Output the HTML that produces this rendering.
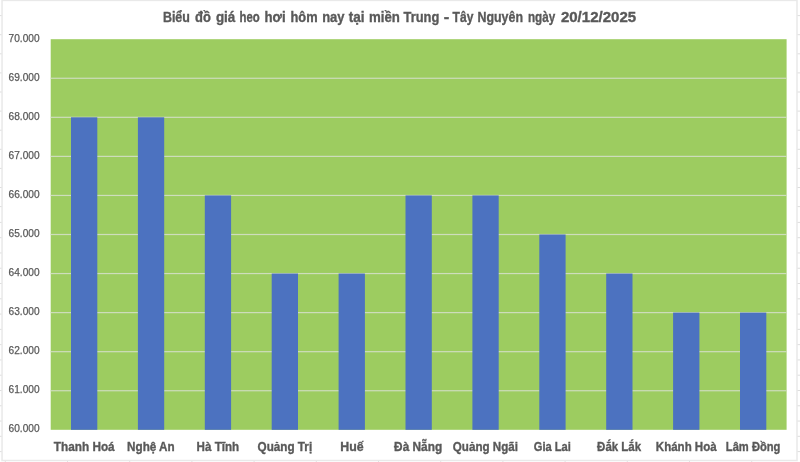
<!DOCTYPE html>
<html lang="vi"><head><meta charset="utf-8"><title>Biểu đồ giá heo hơi</title>
<style>html,body{margin:0;padding:0;background:#fff;overflow:hidden}svg{display:block}text{font-family:"Liberation Sans",sans-serif}</style></head><body>
<svg width="800" height="462" viewBox="0 0 800 462">
<rect width="800" height="462" fill="#fff"/>
<rect x="0" y="15.10" width="800" height="1" fill="#DEDEDE"/>
<rect x="0" y="34.20" width="800" height="1" fill="#DEDEDE"/>
<rect x="0" y="53.30" width="800" height="1" fill="#DEDEDE"/>
<rect x="0" y="72.40" width="800" height="1" fill="#DEDEDE"/>
<rect x="0" y="91.50" width="800" height="1" fill="#DEDEDE"/>
<rect x="0" y="110.60" width="800" height="1" fill="#DEDEDE"/>
<rect x="0" y="129.70" width="800" height="1" fill="#DEDEDE"/>
<rect x="0" y="148.80" width="800" height="1" fill="#DEDEDE"/>
<rect x="0" y="167.90" width="800" height="1" fill="#DEDEDE"/>
<rect x="0" y="187.00" width="800" height="1" fill="#DEDEDE"/>
<rect x="0" y="206.10" width="800" height="1" fill="#DEDEDE"/>
<rect x="0" y="221.90" width="800" height="1" fill="#DEDEDE"/>
<rect x="0" y="237.18" width="800" height="1" fill="#DEDEDE"/>
<rect x="0" y="252.46" width="800" height="1" fill="#DEDEDE"/>
<rect x="0" y="267.74" width="800" height="1" fill="#DEDEDE"/>
<rect x="0" y="283.02" width="800" height="1" fill="#DEDEDE"/>
<rect x="0" y="298.30" width="800" height="1" fill="#DEDEDE"/>
<rect x="0" y="313.58" width="800" height="1" fill="#DEDEDE"/>
<rect x="0" y="328.86" width="800" height="1" fill="#DEDEDE"/>
<rect x="0" y="344.14" width="800" height="1" fill="#DEDEDE"/>
<rect x="0" y="359.42" width="800" height="1" fill="#DEDEDE"/>
<rect x="0" y="374.70" width="800" height="1" fill="#DEDEDE"/>
<rect x="0" y="389.98" width="800" height="1" fill="#DEDEDE"/>
<rect x="0" y="405.26" width="800" height="1" fill="#DEDEDE"/>
<rect x="0" y="420.54" width="800" height="1" fill="#DEDEDE"/>
<rect x="0" y="435.82" width="800" height="1" fill="#DEDEDE"/>
<rect x="0" y="451.10" width="800" height="1" fill="#DEDEDE"/>
<rect x="0" y="466.38" width="800" height="1" fill="#DEDEDE"/>
<rect x="4.80" y="0" width="1" height="462" fill="#DEDEDE"/>
<rect x="67.00" y="0" width="1" height="462" fill="#DEDEDE"/>
<rect x="129.20" y="0" width="1" height="462" fill="#DEDEDE"/>
<rect x="191.40" y="0" width="1" height="462" fill="#DEDEDE"/>
<rect x="253.60" y="0" width="1" height="462" fill="#DEDEDE"/>
<rect x="315.80" y="0" width="1" height="462" fill="#DEDEDE"/>
<rect x="378.00" y="0" width="1" height="462" fill="#DEDEDE"/>
<rect x="440.20" y="0" width="1" height="462" fill="#DEDEDE"/>
<rect x="502.40" y="0" width="1" height="462" fill="#DEDEDE"/>
<rect x="564.60" y="0" width="1" height="462" fill="#DEDEDE"/>
<rect x="626.80" y="0" width="1" height="462" fill="#DEDEDE"/>
<rect x="689.00" y="0" width="1" height="462" fill="#DEDEDE"/>
<rect x="751.20" y="0" width="1" height="462" fill="#DEDEDE"/>
<rect x="813.40" y="0" width="1" height="462" fill="#DEDEDE"/>
<rect x="2.05" y="0.4" width="794.95" height="460.1" fill="#fff" stroke="#E9E9E9" stroke-width="1.5"/>
<rect x="50.7" y="39.2" width="735.90" height="390.60" fill="#9DCC60"/>
<rect x="50.7" y="77.66" width="735.90" height="1.2" fill="#CEDDBC"/>
<rect x="50.7" y="116.72" width="735.90" height="1.2" fill="#CEDDBC"/>
<rect x="50.7" y="155.78" width="735.90" height="1.2" fill="#CEDDBC"/>
<rect x="50.7" y="194.84" width="735.90" height="1.2" fill="#CEDDBC"/>
<rect x="50.7" y="233.90" width="735.90" height="1.2" fill="#CEDDBC"/>
<rect x="50.7" y="272.96" width="735.90" height="1.2" fill="#CEDDBC"/>
<rect x="50.7" y="312.02" width="735.90" height="1.2" fill="#CEDDBC"/>
<rect x="50.7" y="351.08" width="735.90" height="1.2" fill="#CEDDBC"/>
<rect x="50.7" y="390.14" width="735.90" height="1.2" fill="#CEDDBC"/>
<rect x="71.00" y="117.32" width="26.3" height="312.48" fill="#4C72C0"/>
<rect x="137.90" y="117.32" width="26.3" height="312.48" fill="#4C72C0"/>
<rect x="204.80" y="195.44" width="26.3" height="234.36" fill="#4C72C0"/>
<rect x="271.70" y="273.56" width="26.3" height="156.24" fill="#4C72C0"/>
<rect x="338.60" y="273.56" width="26.3" height="156.24" fill="#4C72C0"/>
<rect x="405.50" y="195.44" width="26.3" height="234.36" fill="#4C72C0"/>
<rect x="472.40" y="195.44" width="26.3" height="234.36" fill="#4C72C0"/>
<rect x="539.30" y="234.50" width="26.3" height="195.30" fill="#4C72C0"/>
<rect x="606.20" y="273.56" width="26.3" height="156.24" fill="#4C72C0"/>
<rect x="673.10" y="312.62" width="26.3" height="117.18" fill="#4C72C0"/>
<rect x="740.00" y="312.62" width="26.3" height="117.18" fill="#4C72C0"/>
<text x="39.6" y="41.80" text-anchor="end" stroke="#595959" stroke-width="0.25" font-size="10.5" fill="#595959" textLength="31" lengthAdjust="spacingAndGlyphs">70.000</text>
<text x="39.6" y="80.86" text-anchor="end" stroke="#595959" stroke-width="0.25" font-size="10.5" fill="#595959" textLength="31" lengthAdjust="spacingAndGlyphs">69.000</text>
<text x="39.6" y="119.92" text-anchor="end" stroke="#595959" stroke-width="0.25" font-size="10.5" fill="#595959" textLength="31" lengthAdjust="spacingAndGlyphs">68.000</text>
<text x="39.6" y="158.98" text-anchor="end" stroke="#595959" stroke-width="0.25" font-size="10.5" fill="#595959" textLength="31" lengthAdjust="spacingAndGlyphs">67.000</text>
<text x="39.6" y="198.04" text-anchor="end" stroke="#595959" stroke-width="0.25" font-size="10.5" fill="#595959" textLength="31" lengthAdjust="spacingAndGlyphs">66.000</text>
<text x="39.6" y="237.10" text-anchor="end" stroke="#595959" stroke-width="0.25" font-size="10.5" fill="#595959" textLength="31" lengthAdjust="spacingAndGlyphs">65.000</text>
<text x="39.6" y="276.16" text-anchor="end" stroke="#595959" stroke-width="0.25" font-size="10.5" fill="#595959" textLength="31" lengthAdjust="spacingAndGlyphs">64.000</text>
<text x="39.6" y="315.22" text-anchor="end" stroke="#595959" stroke-width="0.25" font-size="10.5" fill="#595959" textLength="31" lengthAdjust="spacingAndGlyphs">63.000</text>
<text x="39.6" y="354.28" text-anchor="end" stroke="#595959" stroke-width="0.25" font-size="10.5" fill="#595959" textLength="31" lengthAdjust="spacingAndGlyphs">62.000</text>
<text x="39.6" y="393.34" text-anchor="end" stroke="#595959" stroke-width="0.25" font-size="10.5" fill="#595959" textLength="31" lengthAdjust="spacingAndGlyphs">61.000</text>
<text x="39.6" y="432.40" text-anchor="end" stroke="#595959" stroke-width="0.25" font-size="10.5" fill="#595959" textLength="31" lengthAdjust="spacingAndGlyphs">60.000</text>
<text y="451.3" font-size="12.5" font-weight="bold" fill="#595959" stroke="#595959" stroke-width="0.35"><tspan x="53.85" textLength="60.80" lengthAdjust="spacingAndGlyphs">Thanh Hoá</tspan></text>
<text y="451.3" font-size="12.5" font-weight="bold" fill="#595959" stroke="#595959" stroke-width="0.35"><tspan x="127.10" textLength="47.55" lengthAdjust="spacingAndGlyphs">Nghệ An</tspan></text>
<text y="451.3" font-size="12.5" font-weight="bold" fill="#595959" stroke="#595959" stroke-width="0.35"><tspan x="196.60" textLength="42.55" lengthAdjust="spacingAndGlyphs">Hà Tĩnh</tspan></text>
<text y="451.3" font-size="12.5" font-weight="bold" fill="#595959" stroke="#595959" stroke-width="0.35"><tspan x="257.60" textLength="54.55" lengthAdjust="spacingAndGlyphs">Quảng Trị</tspan></text>
<text y="451.3" font-size="12.5" font-weight="bold" fill="#595959" stroke="#595959" stroke-width="0.35"><tspan x="340.35" textLength="23.30" lengthAdjust="spacingAndGlyphs">Huế</tspan></text>
<text y="451.3" font-size="12.5" font-weight="bold" fill="#595959" stroke="#595959" stroke-width="0.35"><tspan x="394.10" textLength="48.05" lengthAdjust="spacingAndGlyphs">Đà Nẵng</tspan></text>
<text y="451.3" font-size="12.5" font-weight="bold" fill="#595959" stroke="#595959" stroke-width="0.35"><tspan x="452.85" textLength="65.05" lengthAdjust="spacingAndGlyphs">Quảng Ngãi</tspan></text>
<text y="451.3" font-size="12.5" font-weight="bold" fill="#595959" stroke="#595959" stroke-width="0.35"><tspan x="533.85" textLength="37.05" lengthAdjust="spacingAndGlyphs">Gia Lai</tspan></text>
<text y="451.3" font-size="12.5" font-weight="bold" fill="#595959" stroke="#595959" stroke-width="0.35"><tspan x="597.10" textLength="44.05" lengthAdjust="spacingAndGlyphs">Đắk Lắk</tspan></text>
<text y="451.3" font-size="12.5" font-weight="bold" fill="#595959" stroke="#595959" stroke-width="0.35"><tspan x="655.85" textLength="60.80" lengthAdjust="spacingAndGlyphs">Khánh Hoà</tspan></text>
<text y="451.3" font-size="12.5" font-weight="bold" fill="#595959" stroke="#595959" stroke-width="0.35"><tspan x="725.85" textLength="54.55" lengthAdjust="spacingAndGlyphs">Lâm Đồng</tspan></text>
<text y="21.5" font-size="14.4" font-weight="bold" fill="#595959" stroke="#595959" stroke-width="0.35"><tspan x="162.90" textLength="27.00" lengthAdjust="spacingAndGlyphs">Biểu</tspan> <tspan x="195.10" textLength="15.80" lengthAdjust="spacingAndGlyphs">đồ</tspan> <tspan x="215.90" textLength="19.40" lengthAdjust="spacingAndGlyphs">giá</tspan> <tspan x="239.50" textLength="20.20" lengthAdjust="spacingAndGlyphs">heo</tspan> <tspan x="264.50" textLength="21.10" lengthAdjust="spacingAndGlyphs">hơi</tspan> <tspan x="290.50" textLength="27.10" lengthAdjust="spacingAndGlyphs">hôm</tspan> <tspan x="322.20" textLength="22.40" lengthAdjust="spacingAndGlyphs">nay</tspan> <tspan x="348.70" textLength="15.80" lengthAdjust="spacingAndGlyphs">tại</tspan> <tspan x="369.00" textLength="30.90" lengthAdjust="spacingAndGlyphs">miền</tspan> <tspan x="403.50" textLength="35.80" lengthAdjust="spacingAndGlyphs">Trung</tspan> <tspan x="443.80" textLength="5.50" lengthAdjust="spacingAndGlyphs">-</tspan> <tspan x="452.60" textLength="20.80" lengthAdjust="spacingAndGlyphs">Tây</tspan> <tspan x="477.50" textLength="45.50" lengthAdjust="spacingAndGlyphs">Nguyên</tspan> <tspan x="527.90" textLength="27.30" lengthAdjust="spacingAndGlyphs">ngày</tspan> <tspan x="560.90" textLength="75.30" lengthAdjust="spacingAndGlyphs">20/12/2025</tspan></text>
</svg></body></html>
